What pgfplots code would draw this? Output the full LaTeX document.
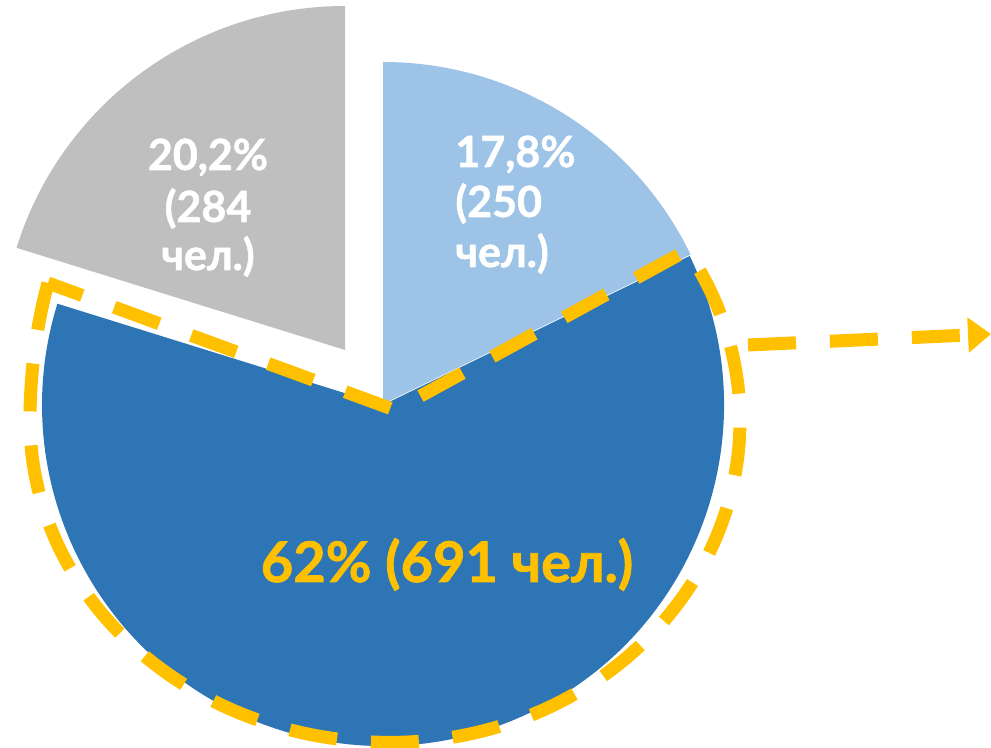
\documentclass[border=0pt]{standalone}
\usepackage{pgfplots}
\pgfplotsset{compat=1.18}
\usepackage{pgfplotstable}
\usepackage{fontspec}
\setmainfont{Lato}[BoldFeatures={FakeBold=1.3}]
\usetikzlibrary{arrows.meta}
\definecolor{lblue}{HTML}{9DC3E6}
\definecolor{dblue}{HTML}{2E75B6}
\definecolor{lgrey}{HTML}{BFBFBF}
\definecolor{gold}{HTML}{FFC000}

\pgfplotstableread{
share count
17.8 250
62.0 691
20.2 284
}\piedata

\begin{document}
\begin{tikzpicture}
\pgfplotstablegetelem{0}{share}\of\piedata \let\sA\pgfplotsretval
\pgfplotstablegetelem{1}{share}\of\piedata \let\sB\pgfplotsretval
\pgfplotstablegetelem{2}{share}\of\piedata \let\sC\pgfplotsretval
\pgfmathsetmacro\aA{90}
\pgfmathsetmacro\aB{90-3.6*\sA}
\pgfmathsetmacro\aC{\aB-3.6*\sB}
\pgfmathsetmacro\aD{\aC-3.6*\sC}
\begin{axis}[scale only axis, width=495.5pt, height=374pt,
  xmin=0, xmax=991, ymin=0, ymax=748, hide axis, clip=false]
% dark blue slice
\fill[dblue] (axis cs:383,343) -- ++(\aB:170.5pt) arc[start angle=\aB, end angle=\aC, radius=170.5pt] -- cycle;
% light blue slice
\fill[lblue] (axis cs:383,344) -- ++(\aA:171pt) arc[start angle=\aA, end angle=\aB, radius=171pt] -- cycle;
% grey slice (exploded)
\fill[lgrey] (axis cs:345,398) -- ++(\aC:172pt) arc[start angle=\aC, end angle=\aD, radius=172pt] -- cycle;
% dashed outline
\draw[gold, line width=6.5pt, dash pattern=on 24pt off 17pt]
  (axis cs:48,465)
  arc[start angle=161.8, end angle=180, x radius=180pt, y radius=220pt]
  arc[start angle=180, end angle=270, x radius=180pt, y radius=161pt]
  arc[start angle=270, end angle=360, x radius=175pt, y radius=161pt]
  arc[start angle=0, end angle=31.9, x radius=175pt, y radius=161pt]
  -- (axis cs:395,338) -- cycle;
% dashed arrow
\draw[gold, line width=6.5pt, dash pattern=on 24pt off 17pt, -{Triangle[length=11.5pt,width=17pt]}]
  (axis cs:748,403) -- (axis cs:991,414);
% labels
\node[white, anchor=base, font=\fontsize{21.5pt}{24pt}\selectfont\bfseries] at (axis cs:208,578) {20,2\%};
\node[white, anchor=base, font=\fontsize{21.5pt}{24pt}\selectfont\bfseries] at (axis cs:208,526) {(284};
\node[white, anchor=base, font=\fontsize{21.5pt}{24pt}\selectfont\bfseries] at (axis cs:208,478) {чел.)};
\node[white, anchor=base west, inner sep=0pt, font=\fontsize{21.5pt}{24pt}\selectfont\bfseries] at (axis cs:455,581) {17,8\%};
\node[white, anchor=base west, inner sep=0pt, font=\fontsize{21.5pt}{24pt}\selectfont\bfseries] at (axis cs:455,531) {(250};
\node[white, anchor=base west, inner sep=0pt, font=\fontsize{21.5pt}{24pt}\selectfont\bfseries] at (axis cs:455,481) {чел.)};
\node[gold, anchor=base, font=\fontsize{28pt}{32pt}\selectfont\bfseries] at (axis cs:447,166) {62\% (691 чел.)};
\end{axis}
\pgfresetboundingbox
\path[use as bounding box] (current axis.south west) rectangle (current axis.north east);
\end{tikzpicture}
\end{document}
